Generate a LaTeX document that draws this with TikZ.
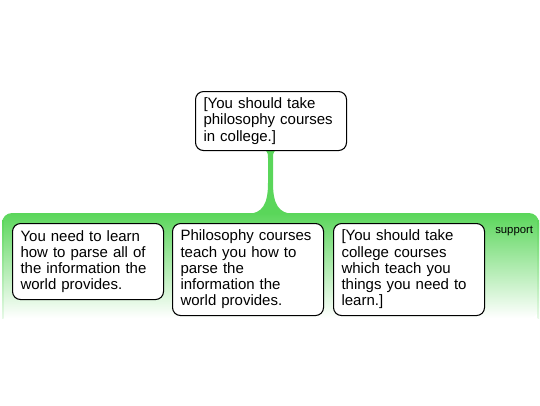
\documentclass[tikz,border=0pt]{standalone}
\usepackage{fontspec}
\setmainfont{Liberation Sans}
\definecolor{bandgreen}{RGB}{90,214,90}
\begin{document}
\hyphenpenalty=10000
\exhyphenpenalty=10000
\begin{tikzpicture}[x=0.75pt,y=-0.75pt,
  claim/.style={draw=black, line width=0.8pt, fill=white, rounded corners=6pt,
    anchor=north west, align=left, text width=101.25pt, inner xsep=6pt, inner ysep=0pt,
    font={\fontsize{11.25pt}{12.2pt}\selectfont}},
  tag/.style={font={\fontsize{8.5pt}{10pt}\selectfont}, inner sep=0pt, anchor=base west}]
\useasboundingbox (0,0) rectangle (540,405);
% band
\shade[top color=bandgreen, bottom color=white]
  (2,318) [rounded corners=7.5pt] -- (2,213) -- (539,213) -- (539,318) [sharp corners] -- cycle;
\shade[top color=bandgreen, bottom color=bandgreen!15] (2,220) rectangle (3.5,318);
\shade[top color=bandgreen, bottom color=bandgreen!15] (537.5,220) rectangle (539,318);
% stem
\fill[bandgreen] (262,150) .. controls (267,150) and (268,152) .. (268,158) -- (268,183)
  .. controls (268,205) and (262,213) .. (248,214) -- (293,214)
  .. controls (279,213) and (273,205) .. (273,183) -- (273,158)
  .. controls (273,152) and (274,150) .. (279,150) -- cycle;
% nodes
\node[claim, minimum height=44.25pt] (top) at (195,91) {[You should take\\ philosophy courses\\ in college.]};
\node[claim, minimum height=57pt] (p1) at (12,223) {You need to learn\\ how to parse all of\\ the information the\\ world provides.};
\node[claim, minimum height=69pt] (p2) at (172,223) {Philosophy courses\\ teach you how to\\ parse the\\ information the\\ world provides.};
\node[claim, minimum height=69pt] (p3) at (333,223) {[You should take\\ college courses\\ which teach you\\ things you need to\\ learn.]};
\node[tag] (sup) at (495,233) {support};
\end{tikzpicture}
\end{document}
